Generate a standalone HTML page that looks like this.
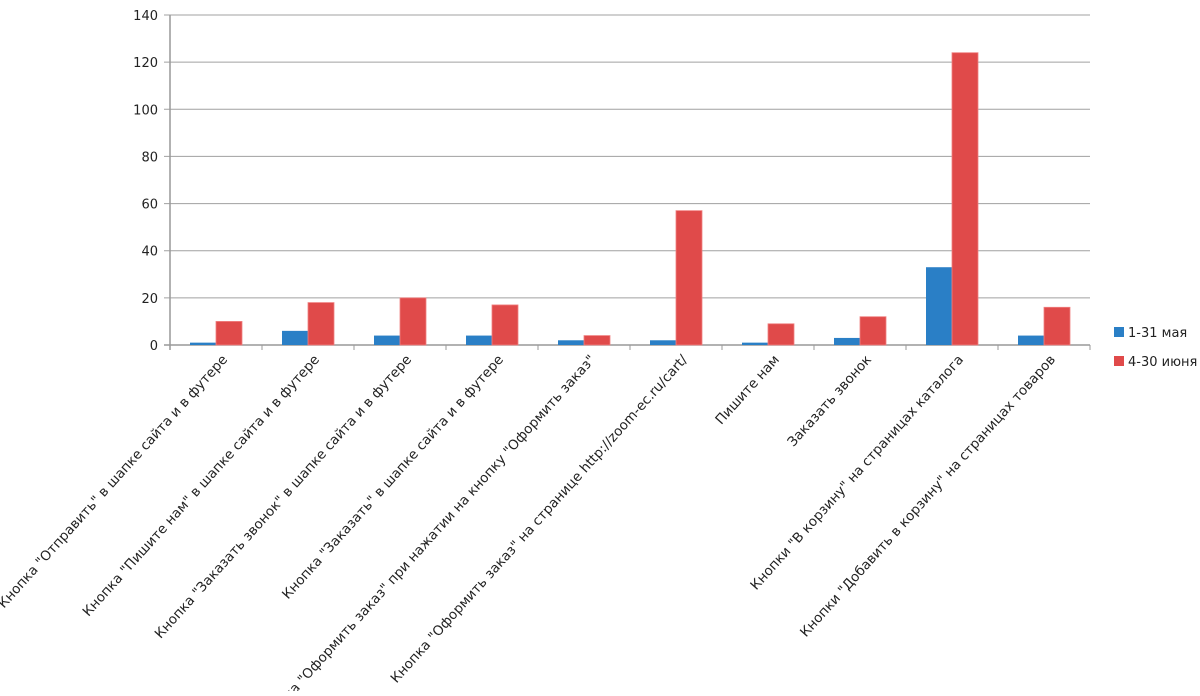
<!DOCTYPE html>
<html><head><meta charset="utf-8"><style>
body{margin:0;background:#fff;}
svg{font-family:"DejaVu Sans","Liberation Sans",sans-serif;}
</style></head><body>
<svg id="chart" width="1200" height="691"></svg>
<script>
const categories=["Кнопка \"Отправить\" в шапке сайта и в футере","Кнопка \"Пишите нам\" в шапке сайта и в футере","Кнопка \"Заказать звонок\" в шапке сайта и в футере","Кнопка \"Заказать\" в шапке сайта и в футере","Кнопка \"Оформить заказ\" при нажатии на кнопку \"Оформить заказ\"","Кнопка \"Оформить заказ\" на странице http://zoom-ec.ru/cart/","Пишите нам","Заказать звонок","Кнопки \"В корзину\" на страницах каталога","Кнопки \"Добавить в корзину\" на страницах товаров"];
const mayValues=[1,6,4,4,2,2,1,3,33,4];
const juneValues=[10,18,20,17,4,57,9,12,124,16];
const yTicks=[0,20,40,60,80,100,120,140];
const seriesNames=["1-31 мая","4-30 июня"];
const svg=document.getElementById('chart');
const NS='http://www.w3.org/2000/svg';
const X0=170,X1=1090,Y0=345,Y1=15,YMAX=140;
const step=(X1-X0)/categories.length;
const y=v=>Y0-(v/YMAX)*(Y0-Y1);
const cx=i=>X0+step*(i+0.5);
function mk(t,a,p){const e=document.createElementNS(NS,t);for(const k in a)e.setAttribute(k,a[k]);(p||svg).appendChild(e);return e;}
yTicks.forEach(t=>{
  const g=mk('line',{x1:X0-6,x2:X1,y1:y(t),y2:y(t),stroke:t===0?'#999':'#a0a0a0','stroke-width':t===0?1.5:1});
  
  
  const l=mk('text',{x:X0-12,y:y(t)+5,'text-anchor':'end','font-size':13,fill:'#222'});
  l.textContent=t;
  
  
});
const ax=mk('line',{x1:X0,x2:X0,y1:Y1,y2:Y0+5,stroke:'#999','stroke-width':1.5});


for(let i=0;i<=categories.length;i++){
  const t=mk('line',{x1:X0+step*i,x2:X0+step*i,y1:Y0,y2:Y0+5,stroke:'#999'});
  
  
}
const bw=26;
categories.forEach((c,i)=>{
  const b=mk('rect',{x:cx(i)-bw,y:y(mayValues[i]),width:bw,height:Y0-y(mayValues[i]),fill:'#2a7fc6'});
  
  
  const r=mk('rect',{x:cx(i),y:y(juneValues[i]),width:bw,height:Y0-y(juneValues[i]),fill:'#e04a4a',stroke:'#f08080','stroke-width':0.8});
  
  
  const tx=cx(i)+12,ty=360;
  const l=mk('text',{x:tx,y:ty,'text-anchor':'end','font-size':13.5,fill:'#222',transform:`rotate(-48 ${tx} ${ty})`});
  l.textContent=c;
  
  
});
const colors=['#2a7fc6','#e04a4a'];
seriesNames.forEach((n,k)=>{
  const yy=333+k*29;
  const s=mk('rect',{x:1114,y:yy-6,width:10,height:10,fill:colors[k]});
  
  
  const t=mk('text',{x:1128,y:yy+4,'font-size':13,fill:'#222'});
  t.textContent=n;
  
  
});
</script>
</body></html>
